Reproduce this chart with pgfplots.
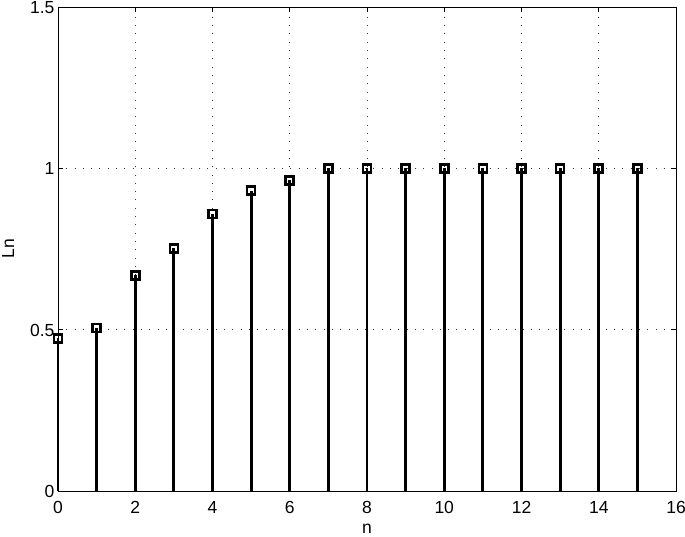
\documentclass[border=0pt]{standalone}
\usepackage{pgfplots}
\pgfplotsset{compat=1.18}
\usepackage{fontspec}
\setmainfont{Liberation Sans}
\begin{document}
\begin{tikzpicture}
\begin{axis}[
  scale only axis,
  width=618pt, height=484pt,
  xmin=0, xmax=16, ymin=0, ymax=1.5,
  xtick={0,2,...,16},
  ytick={0,0.5,1,1.5},
  yticklabels={0,0.5,1,1.5},
  xticklabels={0,2,4,6,8,10,12,14,16},
  /pgf/number format/assume math mode=true,
  grid=major,
  major grid style={black!80, line width=0.7pt, dash pattern=on 1pt off 7.3pt},
  tick align=inside,
  major tick length=5pt,
  axis line style={line width=0.9pt},
  every tick/.style={black, line width=0.9pt},
  tick label style={font=\fontsize{17.5}{20}\selectfont},
  xticklabel style={yshift=-8.5pt, inner sep=2pt},
  yticklabel style={yshift=-0.5pt},
  label style={font=\fontsize{17.5}{20}\selectfont},
  xlabel={n}, ylabel={Ln},
  xlabel style={at={(axis description cs:0.5,0)}, anchor=base, yshift=-43pt, inner sep=0pt},
  ylabel style={at={(axis description cs:0,0.5)}, anchor=center, yshift=50pt},
  clip=false,
]
\addplot[ycomb, black, line width=2.8pt, mark=square, mark size=4pt,
  mark options={line width=2.6pt, solid}] coordinates {
(0,0.473) (1,0.505) (2,0.668) (3,0.752) (4,0.859) (5,0.931) (6,0.963)
(7,1) (8,1) (9,1) (10,1) (11,1) (12,1) (13,1) (14,1) (15,1)
};
\coordinate (ll) at (rel axis cs:0,0);
\coordinate (ur) at (rel axis cs:1,1);
\end{axis}
\pgfresetboundingbox
\path ([shift={(-58pt,-46pt)}]ll) rectangle ([shift={(9pt,7pt)}]ur);
\end{tikzpicture}
\end{document}
